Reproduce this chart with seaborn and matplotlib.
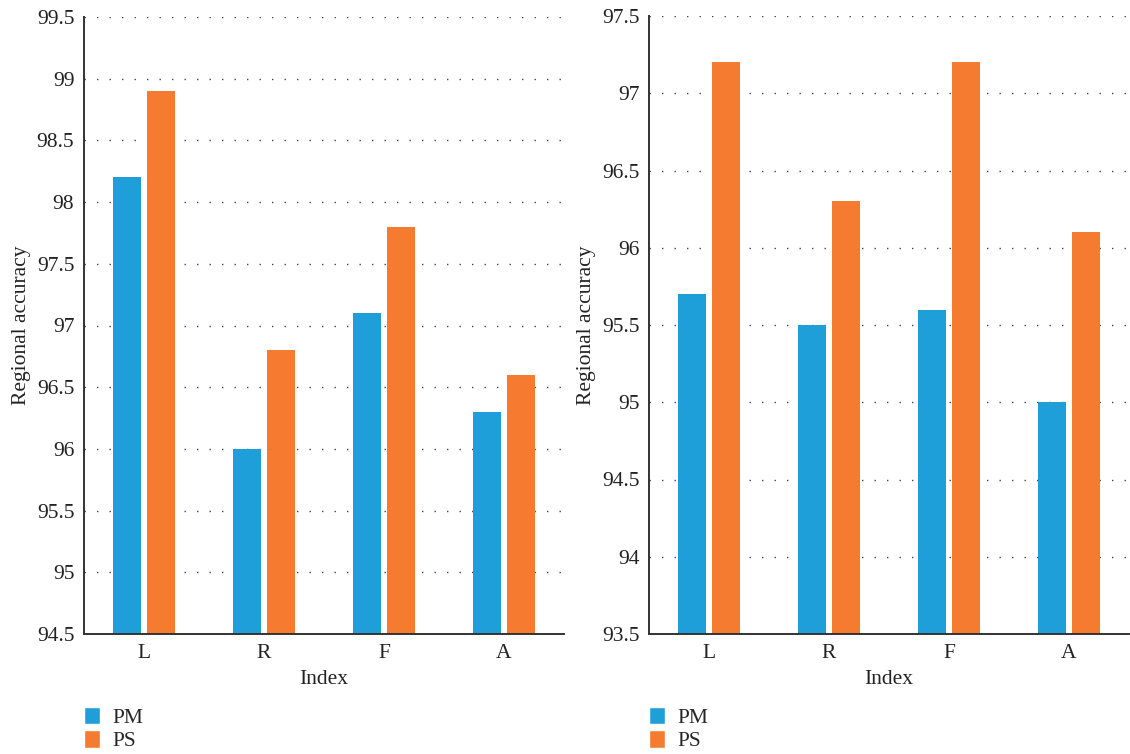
import pandas as pd
import matplotlib
matplotlib.use("Agg")
import matplotlib.pyplot as plt
import seaborn as sns
from matplotlib.patches import Patch
from matplotlib.ticker import FormatStrFormatter, MultipleLocator

# data
categories = ["L", "R", "F", "A"]
series = ["PM", "PS"]
left_pm = [98.2, 96.0, 97.1, 96.3]
left_ps = [98.9, 96.8, 97.8, 96.6]
right_pm = [95.7, 95.5, 95.6, 95.0]
right_ps = [97.2, 96.3, 97.2, 96.1]

colors = {"PM": "#1E9FD9", "PS": "#F47B30"}

sns.set_style("white")
plt.rcParams["font.family"] = ["Liberation Serif", "DejaVu Serif"]
FS = 15.5


def make_frame(pm, ps):
    return pd.DataFrame({
        "Index": categories * 2,
        "value": pm + ps,
        "series": ["PM"] * 4 + ["PS"] * 4,
    })


fig = plt.figure(figsize=(11.3, 7.54), dpi=100)
ax_l = fig.add_axes([84 / 1130, 120 / 754, 480 / 1130, 617 / 754])
ax_r = fig.add_axes([649 / 1130, 120 / 754, 480 / 1130, 618 / 754])

panels = [
    (ax_l, make_frame(left_pm, left_ps), (94.5, 99.5)),
    (ax_r, make_frame(right_pm, right_ps), (93.5, 97.5)),
]

for ax, df, lims in panels:
    sns.barplot(data=df, x="Index", y="value", hue="series", palette=colors,
                width=0.567, gap=0.2, ax=ax, legend=False, saturation=1,
                linewidth=0, edgecolor="none")
    ax.set_ylim(*lims)
    ax.set_xlim(-0.5, 3.5)
    ax.yaxis.set_major_locator(MultipleLocator(0.5))
    ax.yaxis.set_major_formatter(FormatStrFormatter("%g"))
    ax.grid(axis="y", color="#444444", linestyle=(0, (1, 8)), linewidth=1.0)
    ax.set_axisbelow(True)
    for side in ["top", "right"]:
        ax.spines[side].set_visible(False)
    for side in ["left", "bottom"]:
        ax.spines[side].set_color("#333333")
        ax.spines[side].set_linewidth(1.4)
    ax.tick_params(axis="both", length=0, labelsize=FS, colors="#222222", pad=7)
    ax.set_xlabel("Index", fontsize=FS, color="#222222", labelpad=5)
    ax.set_ylabel("Regional accuracy", fontsize=FS, color="#222222", labelpad=4)

    handles = [Patch(facecolor=colors[s], label=s) for s in series]
    x0 = ax.get_position().x0
    fig.legend(handles=handles, loc="upper left", bbox_to_anchor=(x0, 0.062),
               frameon=False, fontsize=FS, handlelength=0.75, handleheight=0.85,
               handletextpad=0.55, borderpad=0, borderaxespad=0, labelspacing=0.1)

fig.savefig("out.png", dpi=100)
